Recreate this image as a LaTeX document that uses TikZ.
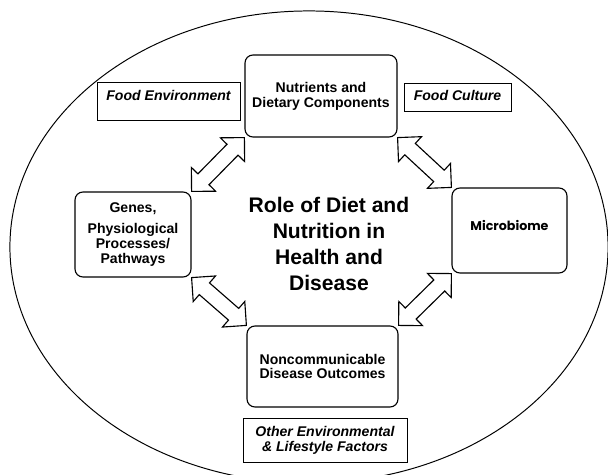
\documentclass[tikz,border=0pt]{standalone}
\usepackage{fontspec}
\setmainfont{Liberation Sans}
\newfontfamily\geofont{Poppins}
\usetikzlibrary{shapes.arrows, calc}

\begin{document}
\begin{tikzpicture}[
  x=0.025cm, y=-0.025cm,
  every node/.style={font=\bfseries\fontsize{10}{10.6}\selectfont, align=center},
  factor/.style={draw, line width=0.8pt, rounded corners=0.2cm},
  context/.style={draw, line width=0.6pt, inner sep=0pt,
    font=\bfseries\itshape\fontsize{10}{10.6}\selectfont},
  dblarrow/.style={double arrow, draw, line width=0.8pt, fill=white, sloped,
    inner xsep=0pt, inner ysep=0.18cm, double arrow head extend=0.23cm}]

  \useasboundingbox (0,0) rectangle (608,475);
  \clip (0,0) rectangle (608,475);

  \draw[line width=0.7pt] (309,247) ellipse [x radius=7.475cm, y radius=5.9cm];

  \node[factor, minimum width=3.8cm, minimum height=2.05cm] (nut) at (321,96)
    {Nutrients and\\Dietary Components};
  \node[factor, minimum width=2.9cm, minimum height=2.125cm] (gen) at (133,234.5)
    {Genes,\\[4pt]Physiological\\Processes/\\Pathways};
  \node[factor, minimum width=2.875cm, minimum height=2.125cm, text height=7.2pt, text depth=7pt]
    (mic) at (509.5,230.5) {\geofont\fontsize{9}{10}\selectfont Microbiome};
  \node[factor, minimum width=3.775cm, minimum height=2.025cm] (non) at (322.5,366.5)
    {Noncommunicable\\Disease Outcomes};

  \node[font=\bfseries\fontsize{15}{18.4}\selectfont] (title) at (329,244)
    {Role of Diet and\\Nutrition in\\Health and\\Disease};

  \node[context, minimum width=3.575cm, minimum height=0.95cm, text height=7.2pt, text depth=8.5pt]
    (fenv) at (168.5,101) {Food Environment};
  \node[context, minimum width=2.675cm, minimum height=0.7cm, text height=7.2pt, text depth=2.8pt]
    (fcul) at (457.5,97) {Food Culture};
  \node[context, minimum width=4.1cm, minimum height=1.1cm] (oth) at (325,440)
    {Other Environmental\\\& Lifestyle Factors};

  \foreach \a/\b in {gen.north east/nut.south west, nut.south east/mic.north west,
                     gen.south east/non.north west, mic.south west/non.north east}
    \path let \p1=($(\b)-(\a)$), \n1={veclen(\x1,\y1)} in
      (\a) -- node[dblarrow, minimum height=\n1] {} (\b);
\end{tikzpicture}
\end{document}
